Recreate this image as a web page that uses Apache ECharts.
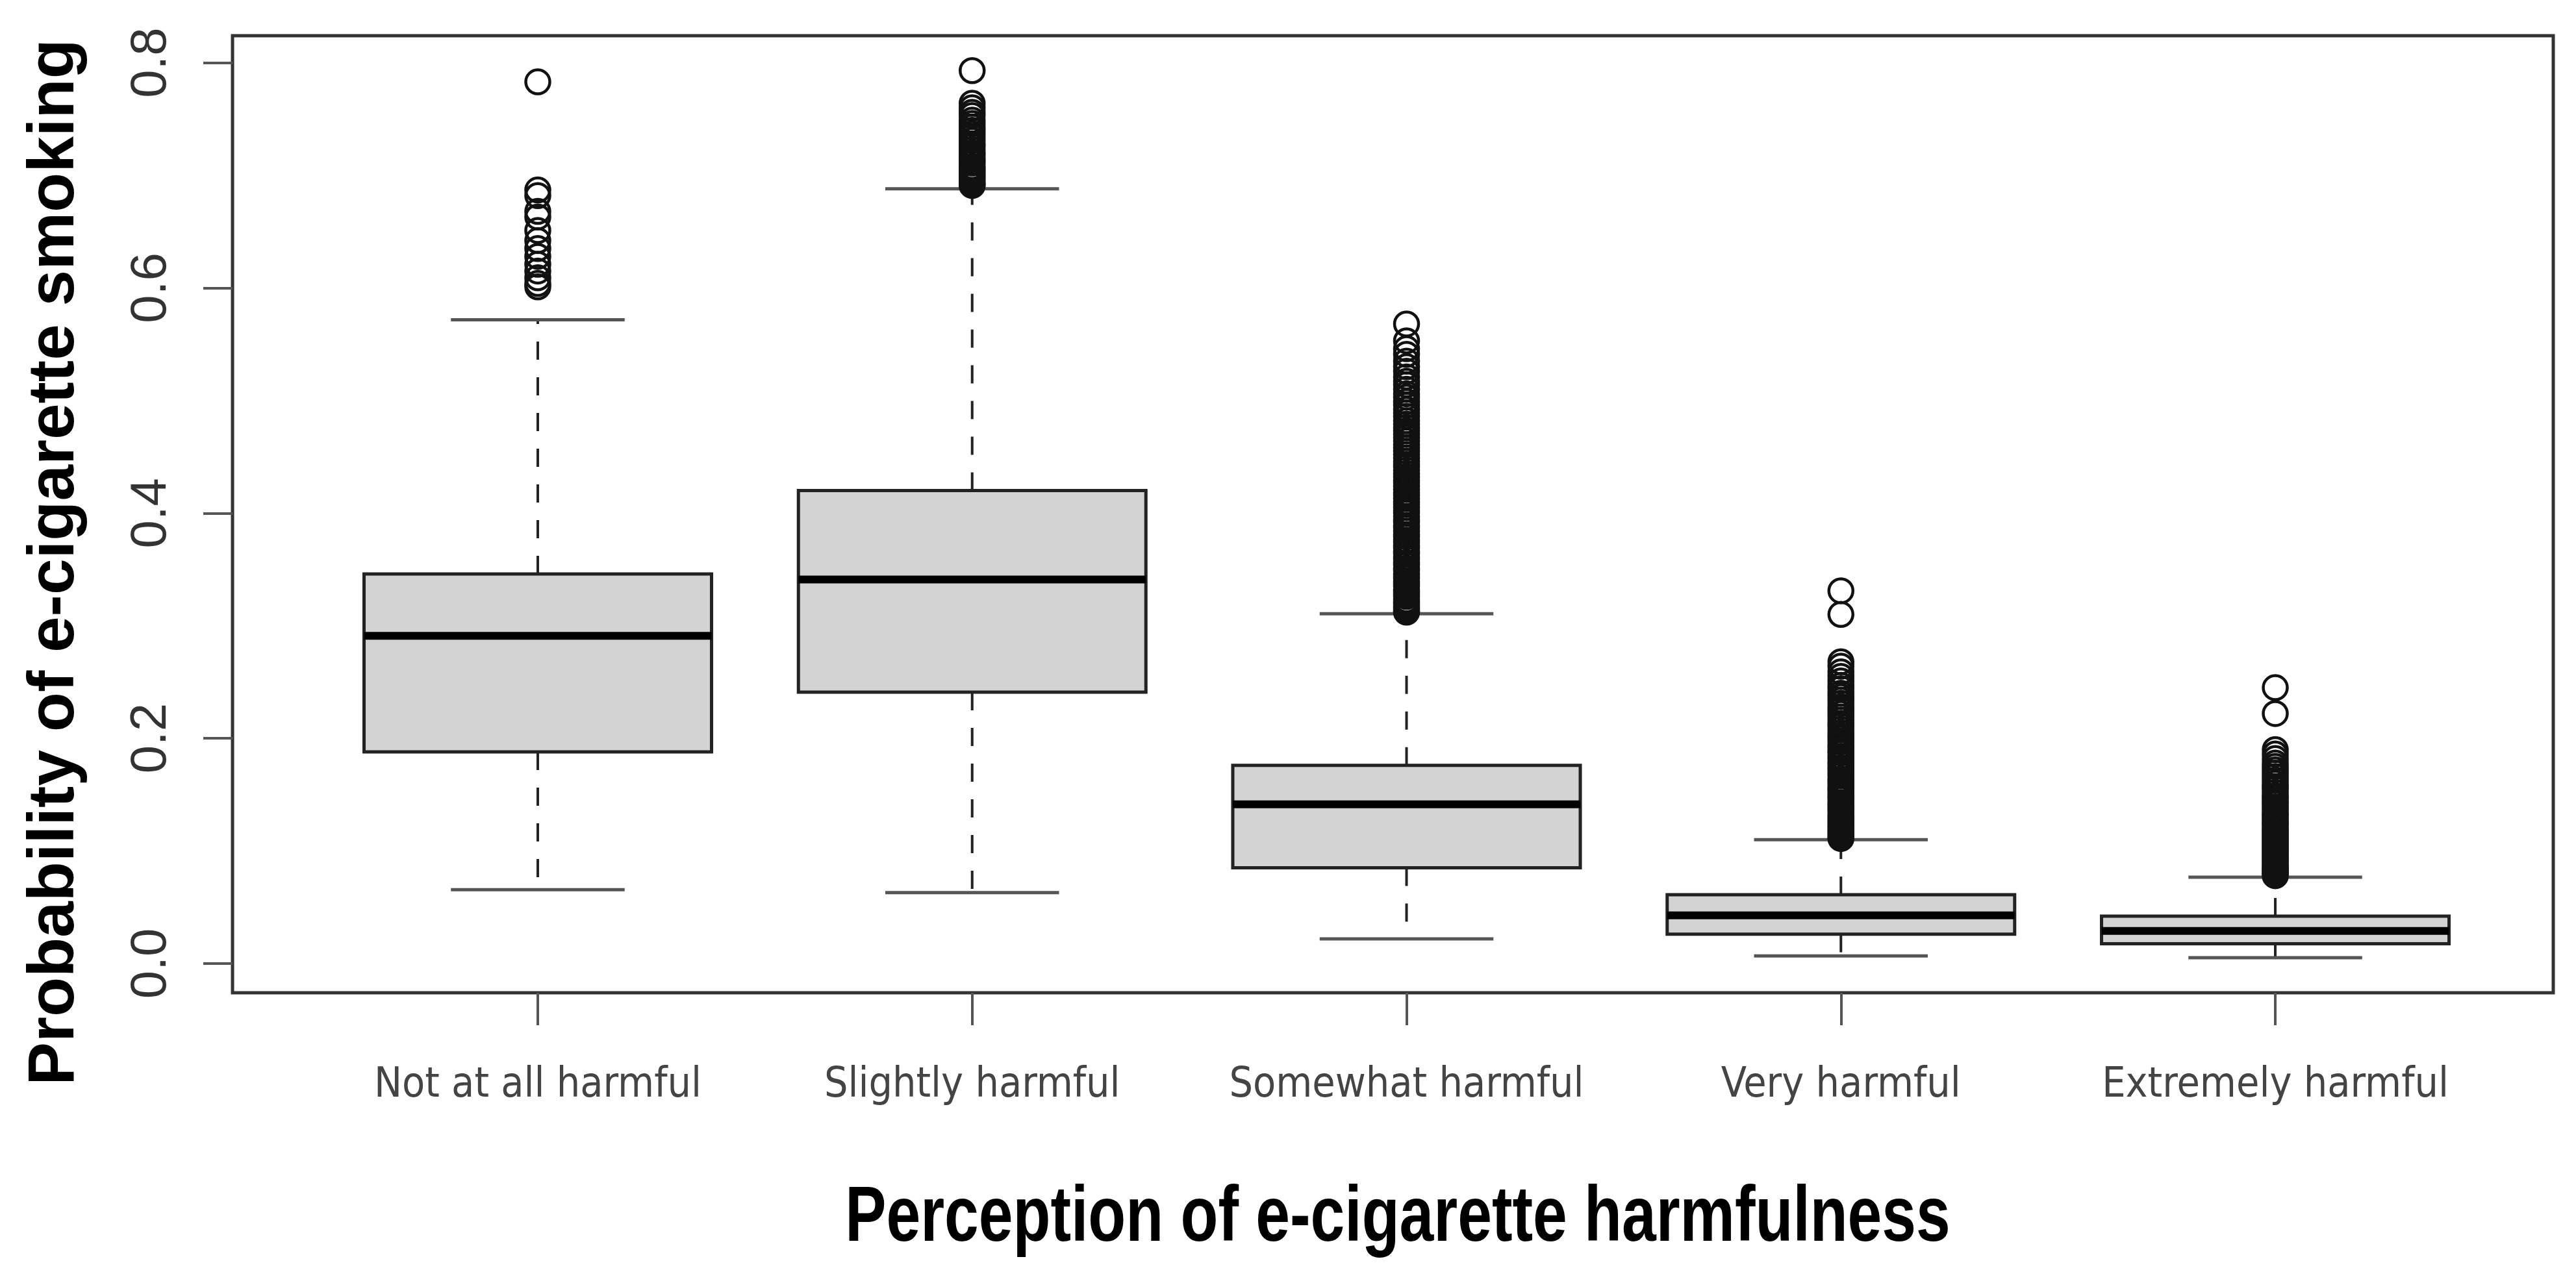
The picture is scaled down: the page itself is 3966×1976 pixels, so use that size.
<!DOCTYPE html>
<html><head><meta charset="utf-8">
<script src="https://cdn.jsdelivr.net/npm/echarts@6/dist/echarts.min.js"></script>
<style>html,body{margin:0;padding:0;background:#fff}#c{width:3966px;height:1976px}</style>
</head><body><div id="c"></div>
<script>
const categories = ['Not at all harmful', 'Slightly harmful', 'Somewhat harmful', 'Very harmful', 'Extremely harmful'];
const yTicks = [0, 0.2, 0.4, 0.6, 0.8];
const lowerWhisker = [0.0655, 0.0629, 0.0219, 0.0067, 0.0052];
const q1 = [0.188, 0.241, 0.085, 0.0261, 0.0175];
const median = [0.291, 0.341, 0.1414, 0.0428, 0.0289];
const q3 = [0.346, 0.420, 0.176, 0.0611, 0.0420];
const upperWhisker = [0.5717, 0.688, 0.3106, 0.1099, 0.0767];

const outNotAtAll = [0.783, 0.687, 0.682, 0.668, 0.663, 0.651, 0.642, 0.635, 0.628, 0.621, 0.615, 0.609, 0.604, 0.601];
const outSlightly = [0.793, 0.764, 0.760, 0.756, 0.753, 0.749, 0.746, 0.743, 0.740, 0.737, 0.734, 0.731, 0.728, 0.726, 0.723, 0.720, 0.718, 0.715, 0.713, 0.711, 0.708, 0.706, 0.704, 0.702, 0.700, 0.698, 0.696, 0.694, 0.692, 0.691];
const outSomewhat = [0.568, 0.553, 0.546, 0.541, 0.535, 0.530, 0.526, 0.521, 0.517, 0.514, 0.510, 0.506, 0.503, 0.499, 0.496, 0.492, 0.489, 0.486, 0.482, 0.479, 0.476, 0.473, 0.470, 0.467, 0.464, 0.461, 0.458, 0.455, 0.452, 0.449, 0.446, 0.443, 0.441, 0.438, 0.435, 0.432, 0.429, 0.427, 0.424, 0.421, 0.418, 0.416, 0.413, 0.410, 0.408, 0.405, 0.402, 0.400, 0.397, 0.394, 0.392, 0.389, 0.387, 0.384, 0.381, 0.379, 0.376, 0.374, 0.371, 0.369, 0.366, 0.364, 0.361, 0.359, 0.356, 0.354, 0.351, 0.349, 0.346, 0.344, 0.342, 0.339, 0.337, 0.335, 0.332, 0.330, 0.328, 0.326, 0.323, 0.321, 0.319, 0.317, 0.315, 0.313, 0.312];
const outVery = [0.331, 0.310, 0.268, 0.264, 0.259, 0.255, 0.251, 0.247, 0.244, 0.240, 0.237, 0.234, 0.231, 0.228, 0.225, 0.222, 0.219, 0.216, 0.213, 0.211, 0.208, 0.205, 0.202, 0.200, 0.197, 0.194, 0.192, 0.189, 0.187, 0.184, 0.182, 0.179, 0.177, 0.174, 0.172, 0.169, 0.167, 0.164, 0.162, 0.160, 0.157, 0.155, 0.153, 0.150, 0.148, 0.146, 0.143, 0.141, 0.139, 0.137, 0.135, 0.132, 0.130, 0.128, 0.126, 0.124, 0.122, 0.120, 0.118, 0.116, 0.114, 0.112, 0.111];
const outExtremely = [0.245, 0.222, 0.190, 0.186, 0.182, 0.178, 0.175, 0.172, 0.169, 0.166, 0.163, 0.160, 0.157, 0.155, 0.152, 0.149, 0.147, 0.144, 0.142, 0.139, 0.137, 0.134, 0.132, 0.130, 0.127, 0.125, 0.123, 0.120, 0.118, 0.116, 0.114, 0.112, 0.110, 0.108, 0.106, 0.104, 0.102, 0.100, 0.098, 0.096, 0.094, 0.092, 0.090, 0.088, 0.086, 0.084, 0.083, 0.081, 0.080, 0.078];

const xTitle = 'Perception of e-cigarette harmfulness';
const yTitle = 'Probability of e-cigarette smoking';

const outlierGroups = [outNotAtAll, outSlightly, outSomewhat, outVery, outExtremely];
const boxData = categories.map((c, i) => [i, lowerWhisker[i], q1[i], median[i], q3[i], upperWhisker[i]]);
const outlierData = [];
outlierGroups.forEach((g, i) => g.forEach(v => outlierData.push([i, v])));

function renderBox(params, api) {
  const i = api.value(0);
  const pLo = api.coord([i, api.value(1)]);
  const pQ1 = api.coord([i, api.value(2)]);
  const pMd = api.coord([i, api.value(3)]);
  const pQ3 = api.coord([i, api.value(4)]);
  const pHi = api.coord([i, api.value(5)]);
  const band = api.size([1, 0])[0];
  const bw = band * 0.8, cw = bw * 0.5, cx = pMd[0];
  const dash = { stroke: '#222', lineWidth: 4, lineDash: [28, 27] };
  const cap = { stroke: '#555', lineWidth: 5 };
  return {
    type: 'group', children: [
      { type: 'line', shape: { x1: cx, y1: pQ3[1], x2: cx, y2: pHi[1] }, style: dash },
      { type: 'line', shape: { x1: cx, y1: pQ1[1], x2: cx, y2: pLo[1] }, style: dash },
      { type: 'line', shape: { x1: cx - cw / 2, y1: pHi[1], x2: cx + cw / 2, y2: pHi[1] }, style: cap },
      { type: 'line', shape: { x1: cx - cw / 2, y1: pLo[1], x2: cx + cw / 2, y2: pLo[1] }, style: cap },
      { type: 'rect', shape: { x: cx - bw / 2, y: pQ3[1], width: bw, height: pQ1[1] - pQ3[1] }, style: { fill: '#d3d3d3', stroke: '#222', lineWidth: 5 } },
      { type: 'line', shape: { x1: cx - bw / 2, y1: pMd[1], x2: cx + bw / 2, y2: pMd[1] }, style: { stroke: '#000', lineWidth: 12 } }
    ]
  };
}

const condensed = "'DejaVu Sans Condensed', 'Liberation Sans', sans-serif";
const chart = echarts.init(document.getElementById('c'), null, { renderer: 'canvas' });
chart.setOption({
  animation: false,
  backgroundColor: '#fff',
  grid: [
    { left: 493.6, right: 128.6, top: 55, bottom: 447, show: false },
    { left: 358, right: 35, top: 55, bottom: 447, show: true, borderColor: '#333', borderWidth: 5, backgroundColor: 'transparent' }
  ],
  graphic: [
    {
      type: 'text', x: 2152, y: 1878, scaleX: 0.79, silent: true,
      style: { text: xTitle, font: "bold 120px 'Liberation Sans', Arial, sans-serif", fill: '#000', textAlign: 'center', textVerticalAlign: 'middle' }
    }
  ],
  xAxis: [
    {
      type: 'category', data: categories, gridIndex: 0, boundaryGap: true,
      axisLine: { show: false, onZero: false },
      axisTick: { show: true, alignWithLabel: true, length: 50, lineStyle: { color: '#555', width: 4 } },
      axisLabel: { interval: 0, margin: 111, fontSize: 64, color: '#444', fontFamily: condensed },
      splitLine: { show: false }
    },
    { type: 'value', gridIndex: 1, show: false }
  ],
  yAxis: [
    {
      type: 'value', gridIndex: 0, min: -0.026, max: 0.824, offset: 135.6,
      axisLine: { show: false },
      axisTick: { show: true, length: 45, customValues: yTicks, lineStyle: { color: '#555', width: 4 } },
      axisLabel: { customValues: yTicks, rotate: 90, margin: 86, fontSize: 78, color: '#333', fontFamily: "'Liberation Sans', Arial, sans-serif", formatter: v => v.toFixed(1) },
      splitLine: { show: false },
      name: yTitle, nameLocation: 'middle', nameGap: 223,
      nameTextStyle: { fontSize: 100, fontWeight: 'bold', color: '#000', fontFamily: "'Liberation Sans', Arial, sans-serif", padding: [0, 148, 0, 0] }
    },
    { type: 'value', gridIndex: 1, show: false }
  ],
  series: [
    {
      type: 'custom', xAxisIndex: 0, yAxisIndex: 0, renderItem: renderBox, data: boxData,
      encode: { x: 0, y: [1, 2, 3, 4, 5] }, z: 2
    },
    {
      type: 'scatter', xAxisIndex: 0, yAxisIndex: 0, data: outlierData, symbol: 'circle', symbolSize: 37,
      itemStyle: { color: 'rgba(0,0,0,0)', borderColor: '#111', borderWidth: 4.5, opacity: 1 }, z: 3,
      emphasis: { disabled: true }
    }
  ]
});
</script></body></html>
